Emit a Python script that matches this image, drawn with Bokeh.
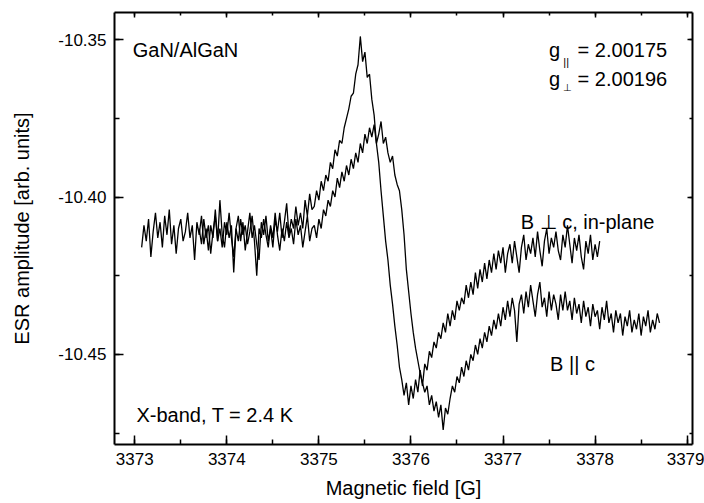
import numpy as np
from bokeh.plotting import figure
from bokeh.models import (Range1d, LinearAxis, SingleIntervalTicker, NumeralTickFormatter,
                          Label, CustomJSTickFormatter)
from bokeh.embed import file_html
from bokeh.resources import INLINE

# ---------------- data ----------------
# sweep of the "B perp c, in-plane" spectrum (higher peak)
field_a_start = 3373.075
field_a_step = 0.025
esr_perp = [
    -10.416, -10.409, -10.414, -10.407, -10.419, -10.411, -10.405, -10.413, -10.408, -10.416,
    -10.406, -10.412, -10.404, -10.415, -10.409, -10.418, -10.410, -10.407, -10.414, -10.411,
    -10.405, -10.413, -10.409, -10.420, -10.408, -10.412, -10.406, -10.415, -10.410, -10.417,
    -10.409, -10.413, -10.404, -10.414, -10.401, -10.412, -10.416, -10.408, -10.413, -10.409,
    -10.424, -10.410, -10.406, -10.414, -10.408, -10.417, -10.411, -10.405, -10.413, -10.409,
    -10.415, -10.420, -10.408, -10.412, -10.406, -10.414, -10.410, -10.416, -10.407, -10.411,
    -10.405, -10.413, -10.408, -10.402, -10.412, -10.407, -10.410, -10.403, -10.409, -10.405,
    -10.410, -10.401, -10.406, -10.399, -10.404, -10.403, -10.398, -10.401, -10.395, -10.398,
    -10.393, -10.395, -10.389, -10.391, -10.385, -10.387, -10.382, -10.383, -10.378, -10.375,
    -10.372, -10.368, -10.367, -10.361, -10.358, -10.349, -10.357, -10.354, -10.362, -10.361,
    -10.369, -10.374, -10.383, -10.389, -10.398, -10.406, -10.414, -10.420, -10.428, -10.434,
    -10.441, -10.447, -10.454, -10.458, -10.463, -10.459, -10.466, -10.460, -10.464, -10.458,
    -10.462, -10.455, -10.460, -10.453, -10.455, -10.449, -10.451, -10.446, -10.448, -10.443,
    -10.445, -10.440, -10.443, -10.437, -10.441, -10.436, -10.439, -10.433, -10.436, -10.432,
    -10.434, -10.428, -10.432, -10.427, -10.431, -10.424, -10.429, -10.423, -10.427, -10.421,
    -10.426, -10.420, -10.424, -10.418, -10.423, -10.417, -10.421, -10.416, -10.424, -10.418,
    -10.415, -10.421, -10.414, -10.419, -10.424, -10.416, -10.412, -10.420, -10.415, -10.418,
    -10.413, -10.419, -10.411, -10.417, -10.422, -10.414, -10.410, -10.418, -10.413, -10.416,
    -10.411, -10.417, -10.420, -10.412, -10.416, -10.409, -10.415, -10.421, -10.413, -10.417,
    -10.412, -10.419, -10.423, -10.414, -10.418, -10.412, -10.420, -10.415, -10.419, -10.414,
]

# sweep of the "B || c" spectrum (lower peak)
field_b_start = 3373.7
field_b_step = 0.025
esr_par = [
    -10.410, -10.415, -10.407, -10.413, -10.409, -10.418, -10.411, -10.406, -10.414, -10.410,
    -10.416, -10.408, -10.412, -10.405, -10.413, -10.419, -10.410, -10.414, -10.407, -10.412,
    -10.409, -10.415, -10.411, -10.406, -10.414, -10.425, -10.410, -10.413, -10.407, -10.412,
    -10.416, -10.409, -10.413, -10.405, -10.412, -10.417, -10.410, -10.414, -10.408, -10.413,
    -10.410, -10.415, -10.407, -10.412, -10.409, -10.416, -10.411, -10.406, -10.414, -10.410,
    -10.409, -10.413, -10.407, -10.410, -10.404, -10.406, -10.401, -10.403, -10.398, -10.400,
    -10.394, -10.397, -10.392, -10.395, -10.390, -10.393, -10.388, -10.391, -10.386, -10.389,
    -10.383, -10.386, -10.380, -10.383, -10.378, -10.381, -10.377, -10.383, -10.380, -10.376,
    -10.383, -10.381, -10.386, -10.389, -10.387, -10.393, -10.396, -10.398, -10.404, -10.412,
    -10.423, -10.430, -10.437, -10.443, -10.448, -10.452, -10.456, -10.459, -10.462, -10.460,
    -10.466, -10.463, -10.468, -10.465, -10.470, -10.466, -10.474, -10.467, -10.469, -10.464,
    -10.460, -10.462, -10.457, -10.459, -10.454, -10.457, -10.452, -10.455, -10.450, -10.452,
    -10.447, -10.450, -10.445, -10.448, -10.443, -10.446, -10.441, -10.444, -10.439, -10.442,
    -10.437, -10.441, -10.435, -10.439, -10.433, -10.438, -10.432, -10.436, -10.446, -10.434,
    -10.431, -10.437, -10.430, -10.435, -10.428, -10.433, -10.438, -10.431, -10.427, -10.435,
    -10.432, -10.438, -10.430, -10.436, -10.431, -10.434, -10.439, -10.431, -10.436, -10.430,
    -10.436, -10.433, -10.439, -10.432, -10.437, -10.434, -10.440, -10.433, -10.438, -10.435,
    -10.441, -10.434, -10.438, -10.436, -10.442, -10.435, -10.439, -10.433, -10.440, -10.437,
    -10.443, -10.436, -10.440, -10.437, -10.444, -10.438, -10.441, -10.436, -10.443, -10.439,
    -10.442, -10.437, -10.444, -10.438, -10.441, -10.436, -10.443, -10.439, -10.442, -10.437,
    -10.440,
]

x_range_limits = (3372.78, 3379.058)
y_range_limits = (-10.4786, -10.3414)

field_perp = field_a_start + field_a_step * np.arange(len(esr_perp))
field_par = field_b_start + field_b_step * np.arange(len(esr_par))

FONT = "Liberation Sans"

p = figure(width=704, height=503, output_backend="svg", toolbar_location=None,
           x_range=Range1d(*x_range_limits), y_range=Range1d(*y_range_limits),
           min_border_left=114, min_border_right=12, min_border_top=12, min_border_bottom=59)
p.xgrid.visible = False
p.ygrid.visible = False
p.outline_line_color = None
p.background_fill_color = "white"
p.border_fill_color = "white"

xt = SingleIntervalTicker(interval=1, num_minor_ticks=2)
yt = SingleIntervalTicker(interval=0.05, num_minor_ticks=2)

def style(ax, labels=True, big=9, small=5):
    ax.axis_line_width = 2
    ax.axis_line_color = "black"
    ax.major_tick_in = big
    ax.major_tick_out = 0
    ax.minor_tick_in = small
    ax.minor_tick_out = 0
    ax.major_tick_line_width = 1.5
    ax.minor_tick_line_width = 1.5
    ax.major_tick_line_color = "black"
    ax.minor_tick_line_color = "black"
    if labels:
        ax.major_label_text_font = FONT
        ax.major_label_text_font_size = "17px"
        ax.major_label_text_color = "black"
        ax.major_label_standoff = 8
        ax.axis_label_text_font = FONT
        ax.axis_label_text_font_size = "20px"
        ax.axis_label_text_font_style = "normal"
        ax.axis_label_text_color = "black"
    else:
        ax.formatter = CustomJSTickFormatter(code="return '';")
        ax.major_label_standoff = 0

xa = p.xaxis[0]
xa.ticker = xt
xa.axis_label = "Magnetic field [G]"
style(xa)
xa.axis_label_standoff = 9

ya = p.yaxis[0]
ya.ticker = yt
ya.formatter = NumeralTickFormatter(format="0.00")
ya.axis_label = "ESR amplitude [arb. units]"
style(ya)
ya.axis_label_standoff = 22

top = LinearAxis(ticker=SingleIntervalTicker(interval=1, num_minor_ticks=2))
style(top, labels=False, big=5, small=3)
p.add_layout(top, "above")
right = LinearAxis(ticker=SingleIntervalTicker(interval=0.05, num_minor_ticks=2))
style(right, labels=False, big=5, small=3)
p.add_layout(right, "right")

p.line(field_perp, esr_perp, line_color="black", line_width=1.3)
p.line(field_par, esr_par, line_color="black", line_width=1.3)

def lab(x, y, t, size="20px"):
    p.add_layout(Label(x=x, y=y, text=t, text_font=FONT, text_font_size=size,
                       text_color="black", text_baseline="alphabetic", text_align="left"))

lab(3372.978, -10.3532, "GaN/AlGaN")
lab(3373.018, -10.4693, "X-band, T = 2.4 K")
lab(3377.500, -10.3534, "g")
lab(3377.655, -10.3571, "||", "11px")
lab(3377.810, -10.3534, "= 2.00175")
lab(3377.500, -10.3624, "g")
lab(3377.655, -10.3651, "\u22a5", "10px")
lab(3377.810, -10.3624, "= 2.00196")
lab(3377.192, -10.4079, "B \u22a5 c, in-plane")
lab(3377.511, -10.4529, "B || c")

open("out.html", "w").write(file_html(p, INLINE))
